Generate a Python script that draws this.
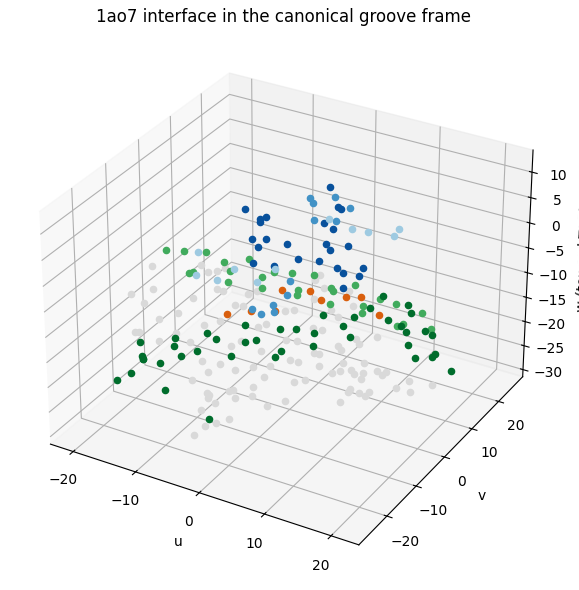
import numpy as np, matplotlib
matplotlib.use("Agg")
import matplotlib.pyplot as plt, seaborn as sns

grey_u=[-18.7,-13.0,-11.2,-10.3,-9.8,-15.2,-17.1,-7.8,-6.8,-9.3,-3.5,-2.8,-14.3,-3.4,2.4,2.4,4.6,7.9,4.9,10.3,
 -10.7,-17.6,-19.0,-12.7,-11.4,-20.0,-19.5,-15.0,-15.8,-12.0,
 -11.5,-12.1,-12.7,-12.2,-6.8,-8.4,-14.1,-11.5,-11.8,-8.9,-7.1,-5.2,-4.5,-12.6,-4.4,-9.1,-8.6,-8.3,-6.7,-6.4,
 -5.1,-3.3,-6.8,-7.6,-0.2,1.2,-3.1,-4.1,-5.0,-5.1,-11.1,-10.1,-5.4,-3.6,-5.1,-3.8,-5.3,0.4,1.2,1.6,
 2.6,4.0,-1.6,-0.9,-3.6,-2.3,0.7,3.2,5.8,3.2,3.9,5.1,6.0,6.9,7.4,8.4,9.4,9.5,-0.2,0.9,
 13.4,16.7,12.7,14.9,7.4,7.5,9.0,10.0,10.1,7.8]
grey_v=[-6.3,-1.9,-3.3,-2.3,-0.8,-12.7,-16.0,-7.5,-7.5,-12.0,-6.4,-4.7,-17.2,-10.5,5.1,3.2,1.7,2.9,-2.3,-1.2,
 6.9,-0.8,-4.0,-1.9,0.6,-9.8,-9.4,-6.6,-10.2,-7.9,
 16.2,14.6,6.7,9.1,13.3,7.8,-0.0,0.7,-2.6,0.3,2.6,4.4,0.7,-6.2,-2.9,-8.5,-8.8,-9.7,-6.1,-5.5,
 -7.5,-5.5,-10.5,-13.6,-7.0,-4.1,-13.4,-15.8,-17.5,-20.5,21.9,22.8,26.2,24.6,19.1,19.3,13.9,16.0,15.0,19.6,
 18.3,22.0,11.9,12.0,7.8,7.9,8.6,11.5,13.3,7.7,8.9,10.2,9.3,10.3,8.4,12.1,11.6,12.5,1.9,3.4,
 11.9,12.7,8.8,8.9,4.7,3.6,4.3,5.4,4.0,0.2]
grey_w=[-6]*20+[-18]*10+[-27]*70

mgreen_u=[-24.0,-21.6,-18.8,-15.2,-12.5,-17.7,-17.5,-13.1,-11.8,-8.4,-7.7,-6.8,-5.3,-2.4,-2.3,-1.7,1.4,2.1,3.9,3.5,
 8.7,11.2,7.6,8.4,15.5,14.1,14.6,18.5]
mgreen_v=[8.3,9.5,11.1,9.6,12.7,3.4,4.2,7.5,4.0,8.4,10.9,5.2,12.2,13.5,7.6,6.1,11.0,10.3,13.9,6.2,
 11.9,11.7,8.5,6.3,11.3,5.4,6.5,7.4]
mgreen_w=[-12]*28

dgreen_u=[-17.9,-14.3,-13.3,-11.2,-9.4,-7.9,-3.1,-5.5,-4.4,-15.1,-15.1,-15.7,-14.6,-15.2,-12.6,-11.1,-9.9,-8.3,-5.3,0.4,
 0.0,0.1,4.8,9.1,-1.2,0.1,1.5,3.1,4.1,4.9,4.0,6.3,8.6,10.9,10.4,12.3,14.5,15.8,14.2,16.6,18.5,18.5,22.4]
dgreen_v=[-12.1,-8.0,-10.3,-3.9,-4.9,1.5,3.4,-3.3,-1.8,-16.5,-16.5,-15.7,-21.2,-24.2,-16.2,-12.4,-9.8,-22.9,-8.3,-26.8,
 -2.8,-5.0,21.8,21.3,4.7,11.0,5.1,1.3,13.0,17.1,9.5,7.0,15.1,14.4,19.1,13.1,15.0,14.4,9.5,6.4,8.1,9.2,5.7]
dgreen_w=[-18]*43

orange_u=[-2.8,0.6,3.1,5.7,7.5,-5.9,-3.5,-0.7,11.9]
orange_v=[3.4,5.4,3.7,6.7,8.0,-8.0,-5.2,-3.2,4.2]
orange_w=[-10]*9

dblue_u=[-7.1,-3.5,-4.0,-3.5,-2.0,-0.5,-0.2,2.6,1.3,4.1,-0.3,3.4,4.0,4.0,5.9,7.1,8.4,9.9,5.9,8.5,11.5,12.8,14.4,15.0,14.7]
dblue_v=[0.4,-0.2,-1.2,-2.2,-7.8,-6.7,-9.6,-6.5,-14.6,-13.6,14.2,8.8,8.4,2.8,1.7,-3.3,-4.7,-2.1,-9.8,-8.8,-9.3,-10.2,-7.2,-9.8,-14.4]
dblue_w=[6]*25

mblue_u=[3.8,5.3,5.0,3.2,4.8,6.1,-5.4,-4.3,-2.6,0.8,-1.8,0.9]
mblue_v=[-7.9,-12.0,-15.8,-18.7,-19.4,-17.8,18.5,17.2,21.0,18.8,12.1,13.5]
mblue_w=[0]*12

lblue_u=[-9.4,-2.8,-6.4,-3.3,1.6,1.8,1.2,5.3,7.6,10.8,11.2]
lblue_v=[-10.1,-11.9,-16.7,-16.4,-13.7,-8.7,10.6,9.4,9.8,13.3,10.8]
lblue_w=[2]*11

groups=[(grey_u,grey_v,grey_w),(mgreen_u,mgreen_v,mgreen_w),(dgreen_u,dgreen_v,dgreen_w),
        (orange_u,orange_v,orange_w),(dblue_u,dblue_v,dblue_w),(mblue_u,mblue_v,mblue_w),(lblue_u,lblue_v,lblue_w)]
palette=sns.color_palette(['#d9d9d9','#41ab5d','#006d2c','#d95f0e','#08519c','#4292c6','#9ecae1'])

W,H=579,590
fig=plt.figure(figsize=(W/100,H/100),dpi=100)
L,T,S=9,30.5,549
ax=fig.add_axes([L/W,1-(T+S)/H,S/W,S/H],projection='3d',computed_zorder=False)
for (u,v,w),c in zip(groups,palette):
    ax.scatter(u,v,w,color=c,s=20,depthshade=False)
ax.set_xlim(-23.7,24.1);ax.set_ylim(-29.3,29.3);ax.set_zlim(-31.5,14.3)
ax.set_xlabel('u');ax.set_ylabel('v');ax.set_zlabel('w (toward TCR)')
ax.set_title('1ao7 interface in the canonical groove frame')
fig.savefig('out.png',dpi=100)
